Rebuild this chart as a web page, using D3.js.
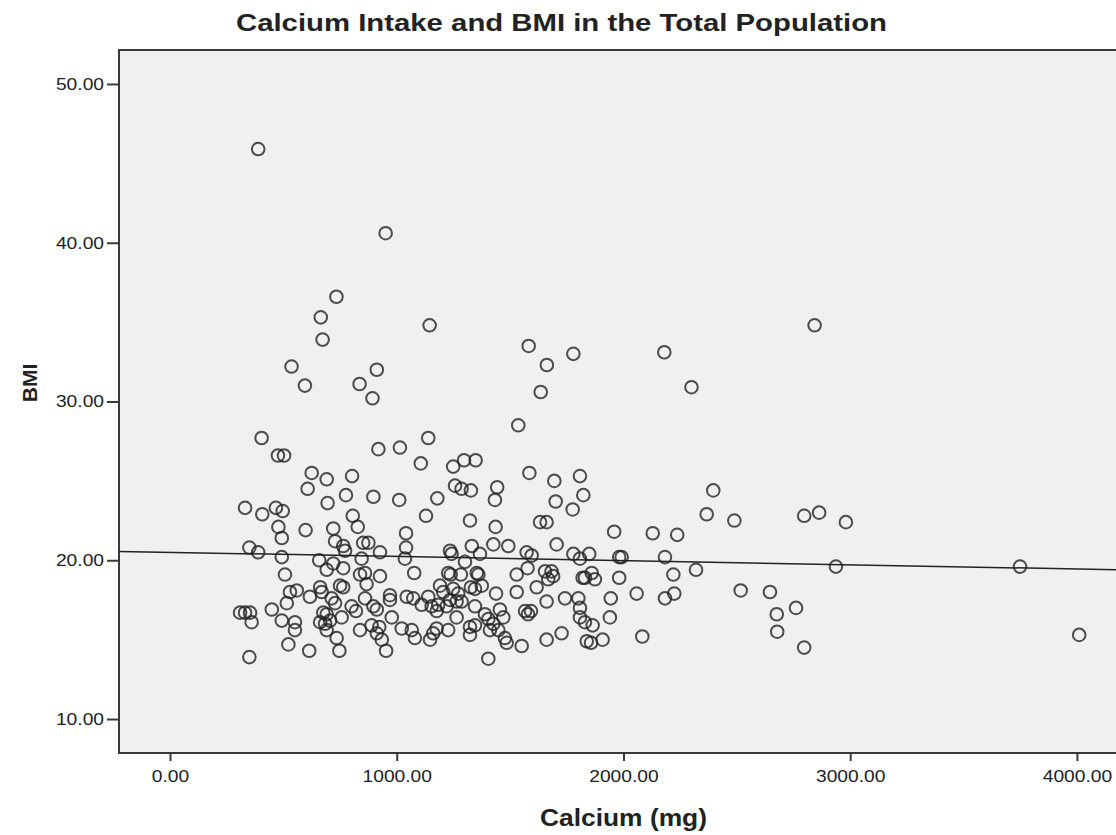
<!DOCTYPE html>
<html>
<head>
<meta charset="utf-8">
<script src="https://cdn.jsdelivr.net/npm/d3@7"></script>
<style>
  body { margin: 0; background: #fff; }
  svg text { font-family: "Liberation Sans", Arial, sans-serif; fill: #222; }
</style>
</head>
<body>
<div id="chart"></div>
<script>
// Calcium (mg) for each respondent
const calcium = [
  389, 951, 734, 665, 673, 1145, 536, 595, 836, 912, 893, 1582, 1662, 1779, 1635, 2180, 2300, 2843, 1536,
  404, 476, 503, 919, 1014, 625, 691, 803, 607, 776, 897, 1011, 695, 331, 407, 467, 497, 806, 478, 828,
  598, 720, 1041, 493, 728, 764, 772, 852, 875, 350, 389, 926, 1041, 493, 658, 720, 691, 764, 845, 1036,
  507, 838, 860, 926, 867, 750, 764, 662, 529, 559, 617, 669, 713, 970, 970, 1044, 515, 728, 860, 449,
  801, 820, 897, 912, 309, 331, 353, 360, 493, 551, 676, 691, 662, 684, 706, 757, 978, 551, 691, 838,
  889, 923, 1022, 912, 934, 735, 522, 614, 747, 953, 350,
  1139, 1106, 1249, 1297, 1348, 1585, 1695, 1808, 1257, 1286, 1327, 1443, 1433, 1179, 1701, 1776, 1823,
  1129, 1323, 1632, 1661, 1436, 1235, 1242, 1331, 1367, 1426, 1492, 1705, 1573, 1595, 1779, 1808, 1301,
  1077, 1227, 1238, 1283, 1353, 1360, 1529, 1577, 1654, 1683, 1690, 1668, 1820, 1191, 1205, 1249, 1271,
  1327, 1345, 1375, 1438, 1529, 1617, 1742, 1073, 1139, 1110, 1154, 1176, 1183, 1235, 1264, 1286, 1220,
  1345, 1455, 1470, 1661, 1566, 1579, 1592, 1801, 1808, 1808, 1830, 1264, 1389, 1404, 1345, 1426, 1066,
  1080, 1176, 1161, 1227, 1147, 1323, 1323, 1411, 1448, 1477, 1485, 1551, 1661, 1727, 1404, 1838,
  2396, 2367, 2489, 1959, 2129, 2237, 1849, 1981, 1992, 2183, 1860, 1830, 1874, 1981, 2220, 2320, 2058,
  1944, 2224, 2183, 2517, 2646, 1940, 1864, 1908, 1857, 2083,
  2797, 2863, 2981, 2937, 2761, 2676, 2678, 2797,
  3749, 4010
];
// BMI, same order as calcium
const bmi = [
  45.9, 40.6, 36.6, 35.3, 33.9, 34.8, 32.2, 31.0, 31.1, 32.0, 30.2, 33.5, 32.3, 33.0, 30.6, 33.1, 30.9, 34.8, 28.5,
  27.7, 26.6, 26.6, 27.0, 27.1, 25.5, 25.1, 25.3, 24.5, 24.1, 24.0, 23.8, 23.6, 23.3, 22.9, 23.3, 23.1, 22.8, 22.1, 22.1,
  21.9, 22.0, 21.7, 21.4, 21.2, 20.9, 20.6, 21.1, 21.1, 20.8, 20.5, 20.5, 20.8, 20.2, 20.0, 19.8, 19.4, 19.5, 20.1, 20.1,
  19.1, 19.1, 19.2, 19.0, 18.5, 18.4, 18.3, 18.3, 18.0, 18.1, 17.7, 18.0, 17.6, 17.8, 17.5, 17.7, 17.3, 17.3, 17.6, 16.9,
  17.1, 16.8, 17.1, 16.9, 16.7, 16.7, 16.7, 16.1, 16.2, 16.1, 16.7, 16.6, 16.1, 16.0, 16.2, 16.4, 16.4, 15.6, 15.6, 15.6,
  15.9, 15.8, 15.7, 15.4, 15.0, 15.1, 14.7, 14.3, 14.3, 14.3, 13.9,
  27.7, 26.1, 25.9, 26.3, 26.3, 25.5, 25.0, 25.3, 24.7, 24.5, 24.4, 24.6, 23.8, 23.9, 23.7, 23.2, 24.1,
  22.8, 22.5, 22.4, 22.4, 22.1, 20.6, 20.4, 20.9, 20.4, 21.0, 20.9, 21.0, 20.5, 20.3, 20.4, 20.1, 19.9,
  19.2, 19.2, 19.1, 19.1, 19.2, 19.1, 19.1, 19.5, 19.3, 19.3, 19.0, 18.8, 18.9, 18.4, 18.0, 18.2, 17.9,
  18.3, 18.2, 18.4, 17.9, 18.0, 18.3, 17.6, 17.6, 17.7, 17.2, 17.1, 16.8, 17.2, 17.5, 17.4, 17.4, 17.1,
  17.1, 16.9, 16.4, 17.4, 16.8, 16.6, 16.8, 17.6, 17.0, 16.4, 16.1, 16.4, 16.6, 16.3, 15.9, 16.0, 15.6,
  15.1, 15.7, 15.4, 15.6, 15.0, 15.8, 15.3, 15.6, 15.6, 15.1, 14.8, 14.6, 15.0, 15.4, 13.8, 14.9,
  24.4, 22.9, 22.5, 21.8, 21.7, 21.6, 20.4, 20.2, 20.2, 20.2, 19.2, 18.9, 18.8, 18.9, 19.1, 19.4, 17.9,
  17.6, 17.9, 17.6, 18.1, 18.0, 16.4, 15.9, 15.0, 14.8, 15.2,
  22.8, 23.0, 22.4, 19.6, 17.0, 16.6, 15.5, 14.5,
  19.6, 15.3
];
const xTicks = [0, 1000, 2000, 3000, 4000];
const yTicks = [10, 20, 30, 40, 50];
// fit line: bmi = intercept + slope * calcium
const fitIntercept = 20.50;
const fitSlope = -0.000262;

const width = 1116, height = 835;
const plotL = 119, plotT = 50, plotR = 1125, plotB = 753;

const svg = d3.select('#chart').append('svg')
  .attr('width', width)
  .attr('height', height);

const x = d3.scaleLinear().domain([-225, 4212]).range([plotL, plotR]);
const y = d3.scaleLinear().domain([7.86, 52.14]).range([plotB, plotT]);

svg.append('rect')
  .attr('x', plotL).attr('y', plotT)
  .attr('width', plotR - plotL).attr('height', plotB - plotT)
  .attr('fill', '#f0f0f0')
  .attr('stroke', '#3a3a3a')
  .attr('stroke-width', 2);

const fmt = d3.format('.2f');

const yAxis = svg.append('g')
  .attr('transform', `translate(${plotL},0)`)
  .call(d3.axisLeft(y).tickValues(yTicks).tickFormat(fmt).tickSize(12).tickPadding(3));
const xAxis = svg.append('g')
  .attr('transform', `translate(0,${plotB})`)
  .call(d3.axisBottom(x).tickValues(xTicks).tickFormat(fmt).tickSize(8).tickPadding(9));

// the source font is a little wider than Liberation Sans, so stretch it
function widen(sel, k) {
  sel.each(function() {
    const w = this.getComputedTextLength();
    d3.select(this).attr('textLength', w * k).attr('lengthAdjust', 'spacingAndGlyphs');
  });
}

for (const ax of [xAxis, yAxis]) {
  ax.select('.domain').remove();
  ax.selectAll('.tick line').attr('stroke', '#3a3a3a').attr('stroke-width', 2);
  ax.selectAll('.tick text')
    .attr('fill', '#333')
    .style('font-size', '17px')
    .call(widen, 1.13);
}

// points
svg.append('g')
  .selectAll('circle')
  .data(calcium.map((c, i) => [c, bmi[i]]))
  .join('circle')
  .attr('cx', d => x(d[0]))
  .attr('cy', d => y(d[1]))
  .attr('r', 6.3)
  .attr('fill', 'none')
  .attr('stroke', '#222')
  .attr('stroke-opacity', 0.8)
  .attr('stroke-width', 2);

// fit line
const xr = x.domain();
svg.append('line')
  .attr('x1', x(xr[0])).attr('y1', y(fitIntercept + fitSlope * xr[0]))
  .attr('x2', x(xr[1])).attr('y2', y(fitIntercept + fitSlope * xr[1]))
  .attr('stroke', '#222')
  .attr('stroke-width', 1.5);

svg.append('text')
  .attr('x', 236).attr('y', 31)
  .attr('textLength', 651)
  .attr('lengthAdjust', 'spacingAndGlyphs')
  .style('font-size', '24px')
  .style('font-weight', 'bold')
  .text('Calcium Intake and BMI in the Total Population');

svg.append('text')
  .attr('x', 540).attr('y', 826)
  .attr('textLength', 167)
  .attr('lengthAdjust', 'spacingAndGlyphs')
  .style('font-size', '23px')
  .style('font-weight', 'bold')
  .text('Calcium (mg)');

svg.append('text')
  .attr('transform', 'translate(37,383) rotate(-90)')
  .attr('text-anchor', 'middle')
  .style('font-size', '21px')
  .style('font-weight', 'bold')
  .text('BMI');
</script>
</body>
</html>
